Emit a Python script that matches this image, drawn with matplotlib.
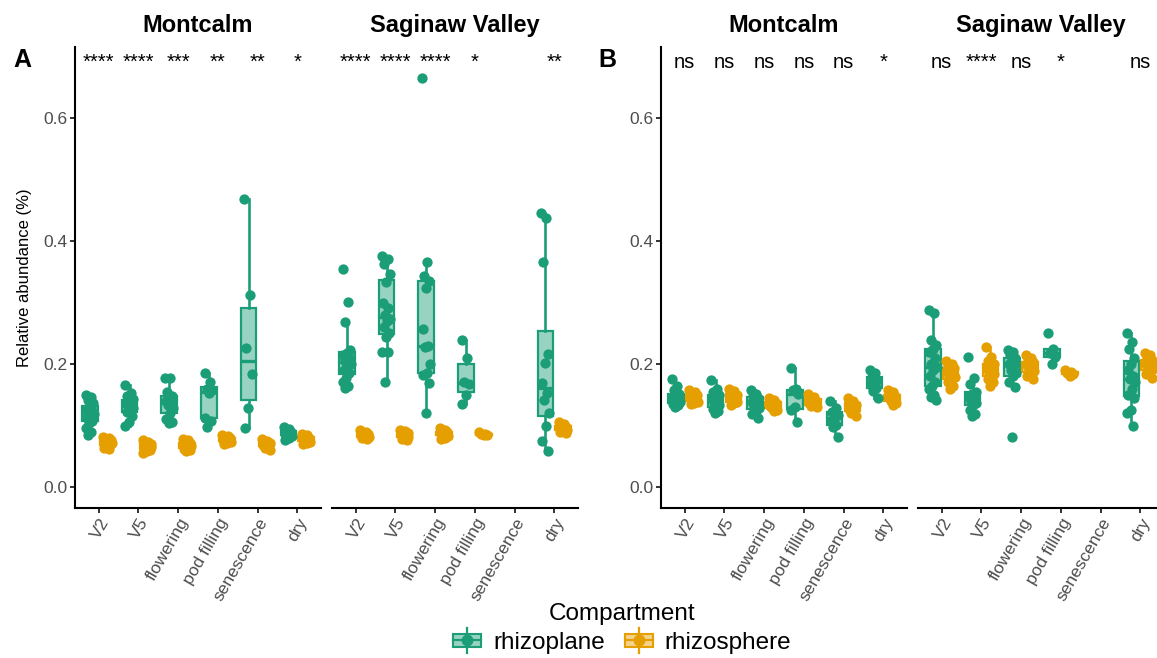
import matplotlib
matplotlib.use("Agg")
import matplotlib.pyplot as plt
import numpy as np
from matplotlib.colors import to_rgba
from matplotlib.legend_handler import HandlerBase
from matplotlib.lines import Line2D
from matplotlib.patches import Patch, Rectangle

plt.rcParams["font.family"] = ["Liberation Sans", "DejaVu Sans"]

STAGES = ["V2", "V5", "flowering", "pod filling", "senescence", "dry"]
COMPARTMENTS = ["rhizoplane", "rhizosphere"]
COLORS = {"rhizoplane": "#1B9E77", "rhizosphere": "#E69F00"}

# panel A, Montcalm
a_mont_plane = [
    [0.150, 0.146, 0.141, 0.136, 0.131, 0.127, 0.124, 0.121, 0.119, 0.116, 0.112, 0.108, 0.104, 0.096, 0.090, 0.085],
    [0.166, 0.153, 0.148, 0.143, 0.139, 0.136, 0.133, 0.131, 0.128, 0.124, 0.122, 0.115, 0.106, 0.100],
    [0.178, 0.177, 0.155, 0.148, 0.145, 0.140, 0.136, 0.133, 0.128, 0.120, 0.110, 0.106, 0.104],
    [0.185, 0.170, 0.160, 0.157, 0.153, 0.113, 0.108, 0.098],
    [0.468, 0.312, 0.226, 0.184, 0.128, 0.096],
    [0.098, 0.095, 0.092, 0.090, 0.088, 0.087, 0.086, 0.085, 0.083, 0.080, 0.077],
]
a_mont_sphere = [
    [0.082, 0.080, 0.078, 0.076, 0.075, 0.074, 0.073, 0.072, 0.071, 0.070, 0.069, 0.068, 0.066, 0.064, 0.062],
    [0.076, 0.074, 0.072, 0.070, 0.069, 0.068, 0.067, 0.066, 0.065, 0.064, 0.062, 0.060, 0.058, 0.056],
    [0.078, 0.076, 0.074, 0.072, 0.070, 0.069, 0.068, 0.067, 0.066, 0.064, 0.062, 0.060, 0.058],
    [0.085, 0.083, 0.081, 0.080, 0.078, 0.077, 0.076, 0.075, 0.074, 0.072, 0.070],
    [0.078, 0.075, 0.073, 0.072, 0.070, 0.068, 0.066, 0.063, 0.060],
    [0.086, 0.084, 0.082, 0.080, 0.078, 0.077, 0.076, 0.075, 0.074, 0.072, 0.070],
]
# panel A, Saginaw Valley
a_sag_plane = [
    [0.354, 0.301, 0.268, 0.222, 0.218, 0.215, 0.210, 0.205, 0.200, 0.198, 0.190, 0.185, 0.178, 0.170, 0.165, 0.161],
    [0.376, 0.370, 0.362, 0.347, 0.333, 0.300, 0.291, 0.280, 0.273, 0.270, 0.260, 0.250, 0.244, 0.220, 0.220, 0.171],
    [0.665, 0.366, 0.343, 0.335, 0.323, 0.257, 0.230, 0.228, 0.200, 0.185, 0.182, 0.169, 0.120],
    [0.239, 0.210, 0.170, 0.168, 0.150, 0.135],
    [],
    [0.445, 0.437, 0.366, 0.217, 0.201, 0.169, 0.153, 0.142, 0.120, 0.100, 0.075, 0.059],
]
a_sag_sphere = [
    [0.092, 0.090, 0.088, 0.087, 0.086, 0.085, 0.084, 0.083, 0.082, 0.081, 0.080, 0.078],
    [0.093, 0.091, 0.089, 0.088, 0.087, 0.086, 0.085, 0.084, 0.082, 0.080, 0.078, 0.076],
    [0.096, 0.093, 0.090, 0.089, 0.088, 0.087, 0.086, 0.085, 0.083, 0.080, 0.078],
    [0.089, 0.087, 0.086, 0.085, 0.084],
    [],
    [0.105, 0.102, 0.100, 0.098, 0.097, 0.096, 0.095, 0.094, 0.093, 0.092, 0.090, 0.088],
]
# panel B, Montcalm
b_mont_plane = [
    [0.175, 0.165, 0.158, 0.152, 0.148, 0.145, 0.143, 0.141, 0.139, 0.137, 0.135, 0.133, 0.130],
    [0.174, 0.160, 0.155, 0.150, 0.147, 0.144, 0.140, 0.137, 0.134, 0.130, 0.127, 0.123, 0.120],
    [0.158, 0.152, 0.148, 0.145, 0.142, 0.138, 0.135, 0.132, 0.128, 0.124, 0.118, 0.112],
    [0.193, 0.160, 0.157, 0.152, 0.130, 0.125, 0.106],
    [0.140, 0.128, 0.122, 0.117, 0.112, 0.107, 0.101, 0.097, 0.082],
    [0.190, 0.185, 0.179, 0.174, 0.170, 0.166, 0.161, 0.156, 0.145],
]
b_mont_sphere = [
    [0.157, 0.154, 0.151, 0.149, 0.147, 0.145, 0.143, 0.141, 0.139, 0.137, 0.135],
    [0.160, 0.156, 0.152, 0.149, 0.146, 0.144, 0.142, 0.140, 0.138, 0.136, 0.133],
    [0.145, 0.142, 0.139, 0.136, 0.134, 0.132, 0.130, 0.128, 0.126, 0.124],
    [0.152, 0.147, 0.143, 0.140, 0.138, 0.136, 0.134, 0.132, 0.130],
    [0.145, 0.140, 0.136, 0.133, 0.130, 0.127, 0.124, 0.120, 0.116],
    [0.158, 0.154, 0.150, 0.148, 0.146, 0.144, 0.142, 0.140, 0.137, 0.134],
]
# panel B, Saginaw Valley
b_sag_plane = [
    [0.288, 0.283, 0.239, 0.231, 0.225, 0.220, 0.210, 0.200, 0.195, 0.190, 0.180, 0.170, 0.165, 0.160, 0.150, 0.146, 0.141],
    [0.212, 0.178, 0.168, 0.155, 0.152, 0.148, 0.143, 0.140, 0.137, 0.134, 0.125, 0.118, 0.115],
    [0.222, 0.219, 0.215, 0.210, 0.205, 0.200, 0.198, 0.190, 0.185, 0.180, 0.170, 0.163, 0.081],
    [0.250, 0.225, 0.218, 0.212, 0.200],
    [],
    [0.250, 0.235, 0.225, 0.210, 0.200, 0.190, 0.180, 0.175, 0.170, 0.160, 0.150, 0.145, 0.125, 0.120, 0.100],
]
b_sag_sphere = [
    [0.205, 0.200, 0.197, 0.193, 0.190, 0.187, 0.185, 0.182, 0.179, 0.175, 0.170, 0.165, 0.160],
    [0.228, 0.212, 0.205, 0.200, 0.197, 0.194, 0.190, 0.187, 0.184, 0.180, 0.176, 0.170, 0.165],
    [0.215, 0.210, 0.206, 0.203, 0.200, 0.198, 0.195, 0.192, 0.188, 0.184, 0.180, 0.175],
    [0.190, 0.187, 0.185, 0.183, 0.180],
    [],
    [0.218, 0.214, 0.210, 0.206, 0.203, 0.200, 0.198, 0.195, 0.192, 0.188, 0.184, 0.178],
]

a_mont_sig = ["****", "****", "***", "**", "**", "*"]
a_sag_sig = ["****", "****", "****", "*", "", "**"]
b_mont_sig = ["ns", "ns", "ns", "ns", "ns", "*"]
b_sag_sig = ["ns", "****", "ns", "*", "", "ns"]

W, H = 1157, 658
DODGE = 0.225
BOX_W = 0.39
GRAY = "#4D4D4D"


def draw_facet(ax, plane, sphere, sig, title, show_y):
    x = np.arange(1, len(STAGES) + 1)
    for comp, groups, off in (("rhizoplane", plane, -DODGE), ("rhizosphere", sphere, DODGE)):
        c = COLORS[comp]
        for i, vals in enumerate(groups):
            if not vals:
                continue
            pos = x[i] + off
            ax.boxplot([vals], positions=[pos], widths=BOX_W, patch_artist=True,
                       showfliers=False, showcaps=False, whis=1.5,
                       boxprops=dict(facecolor=to_rgba(c, 0.45), edgecolor=c, linewidth=1.6),
                       medianprops=dict(color=c, linewidth=2.4),
                       whiskerprops=dict(color=c, linewidth=1.9), zorder=2)
            n = len(vals)
            jit = ((np.arange(n) * 0.618034) % 1 - 0.5) * 0.22
            ax.scatter(pos + jit, vals, s=55, color=c, linewidths=0, zorder=3)
    for i, s in enumerate(sig):
        if s:
            ax.text(x[i], 0.681, s, ha="center", va="baseline", fontsize=14.5, color="black")
    ax.set_xlim(0.4, 6.6)
    ax.set_ylim(-0.0341, 0.7154)
    ax.set_xticks(x)
    ax.set_xticklabels(STAGES, rotation=60, ha="right", va="top", rotation_mode="anchor",
                       fontsize=12.5, color=GRAY)
    ax.set_title(title, fontsize=17, fontweight="bold", pad=11)
    for side in ("top", "right"):
        ax.spines[side].set_visible(False)
    ax.spines["bottom"].set_linewidth(1.5)
    ax.spines["left"].set_linewidth(1.5)
    ax.tick_params(axis="both", length=3.5, width=1.4, color="#333333", pad=2)
    if show_y:
        ax.set_yticks([0.0, 0.2, 0.4, 0.6])
        ax.set_yticklabels(["0.0", "0.2", "0.4", "0.6"], fontsize=12.5, color=GRAY)
    else:
        ax.spines["left"].set_visible(False)
        ax.set_yticks([])


class BoxKey(HandlerBase):
    def create_artists(self, legend, orig_handle, xdescent, ydescent, width, height, fontsize, trans):
        c = orig_handle.get_edgecolor()
        x0, y0 = -xdescent, -ydescent
        cx, cy = x0 + width / 2, y0 + height / 2
        rect = Rectangle((x0, y0 + height * 0.18), width, height * 0.64, facecolor=to_rgba(c, 0.45),
                         edgecolor=c, linewidth=1.5, transform=trans)
        wl = Line2D([cx, cx], [y0 - height * 0.1, y0 + height * 1.1], color=c, lw=1.6, transform=trans)
        med = Line2D([x0, x0 + width], [cy, cy], color=c, lw=1.6, transform=trans)
        dot = Line2D([cx], [cy], marker="o", markersize=7.5, color=c, lw=0, transform=trans)
        return [wl, rect, med, dot]


fig = plt.figure(figsize=(W / 100, H / 100), dpi=100)
bottom = 1 - 508 / H
height = (508 - 47) / H
width = 246 / W
facets = [
    (75, a_mont_plane, a_mont_sphere, a_mont_sig, "Montcalm", True),
    (332, a_sag_plane, a_sag_sphere, a_sag_sig, "Saginaw Valley", False),
    (661, b_mont_plane, b_mont_sphere, b_mont_sig, "Montcalm", True),
    (918, b_sag_plane, b_sag_sphere, b_sag_sig, "Saginaw Valley", False),
]
axes = []
for left, plane, sphere, sig, title, show_y in facets:
    ax = fig.add_axes((left / W, bottom, width, height))
    draw_facet(ax, plane, sphere, sig, title, show_y)
    axes.append(ax)

axes[0].set_ylabel("Relative abundance (%)", fontsize=12, labelpad=8)

fig.text(13 / W, 1 - 67 / H, "A", fontsize=18, fontweight="bold", va="baseline")
fig.text(598 / W, 1 - 67 / H, "B", fontsize=18, fontweight="bold", va="baseline")

handles = [Patch(edgecolor=COLORS[c], facecolor=COLORS[c]) for c in COMPARTMENTS]
leg = fig.legend(handles, COMPARTMENTS, loc="center", bbox_to_anchor=(0.538, 0.045),
                 ncol=2, frameon=False, fontsize=17.5, title="Compartment", title_fontsize=17.5,
                 handler_map={Patch: BoxKey()}, handlelength=1.15, handleheight=0.95,
                 handletextpad=0.5, columnspacing=0.8, borderpad=0.15, labelspacing=0.2)

fig.savefig("out.png", dpi=100)
